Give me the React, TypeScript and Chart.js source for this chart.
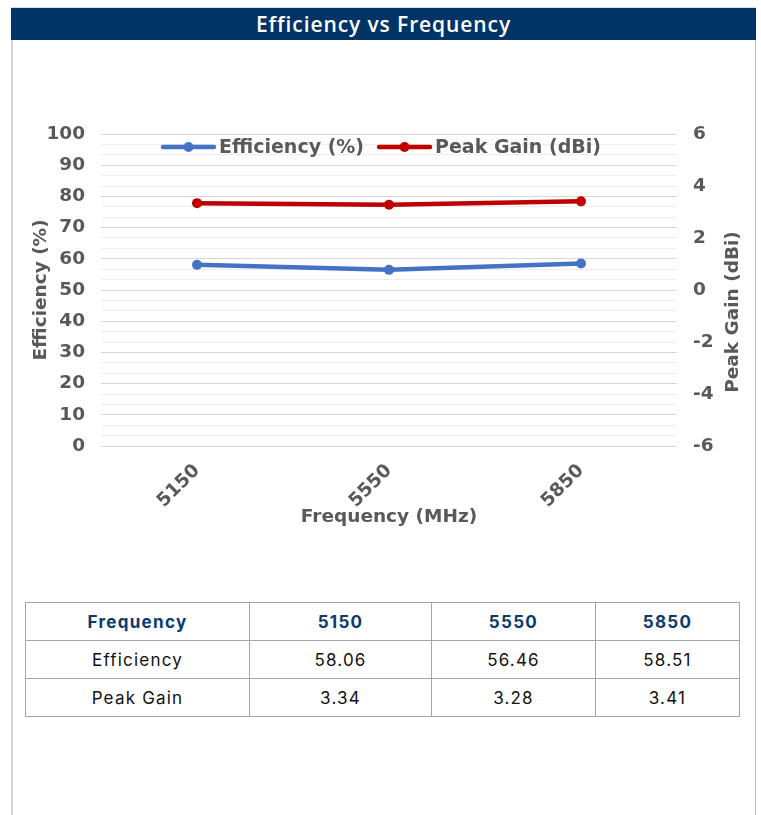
import React, { useEffect, useRef } from "react";
import { Chart, registerables } from "chart.js";

Chart.register(...registerables);

// ---- data ----
const categories = ["5150", "5550", "5850"];
const efficiency = [58.06, 56.46, 58.51];
const peakGain = [3.34, 3.28, 3.41];
const seriesNames = ["Efficiency (%)", "Peak Gain (dBi)"];
const tableRowNames = ["Efficiency", "Peak Gain"];
const chartTitle = "Efficiency vs Frequency";
const xTitle = "Frequency (MHz)";
const leftTitle = "Efficiency (%)";
const rightTitle = "Peak Gain (dBi)";
const leftMin = 0;
const leftMax = 100;
const leftMajor = 10;
const minorPerMajor = 3;
const rightMin = -6;
const rightMax = 6;
const rightStep = 2;

const BLUE = "#4472C4";
const RED = "#C00000";
const GRAY = "#595959";
const NAVY = "#003366";
const FONT = "'DejaVu Sans', Verdana, sans-serif";
const AXIS_SIZE = 18.5;
const LEGEND_SIZE = 19;

const rightTitlePlugin = {
  id: "rightTitleRotated",
  afterDraw(chart: any) {
    const scale = chart.scales.y1;
    const area = chart.chartArea;
    const ctx = chart.ctx;
    ctx.save();
    ctx.translate(scale.right - 22, (area.top + area.bottom) / 2 + 22);
    ctx.rotate(-Math.PI / 2);
    ctx.font = `bold ${AXIS_SIZE}px ${FONT}`;
    ctx.fillStyle = GRAY;
    ctx.textAlign = "center";
    ctx.textBaseline = "middle";
    ctx.fillText(rightTitle, 0, 0);
    ctx.restore();
  },
};

// legend drawn inside the plot area (line + marker samples, as in the original)
const insideLegendPlugin = {
  id: "insideLegend",
  afterDraw(chart: any) {
    const ctx = chart.ctx;
    const area = chart.chartArea;
    const sample = 55;
    const gapText = 3;
    const gapItem = 13;
    ctx.save();
    ctx.font = `bold ${LEGEND_SIZE}px ${FONT}`;
    const items = chart.data.datasets.map((ds: any) => ({
      text: ds.label,
      color: ds.borderColor,
      w: ctx.measureText(ds.label).width,
    }));
    const total =
      items.reduce((s: number, it: any) => s + sample + gapText + it.w, 0) + gapItem * (items.length - 1);
    let x = (area.left + area.right) / 2 - 8 - total / 2;
    const y = area.top + 13;
    ctx.textBaseline = "middle";
    ctx.textAlign = "left";
    for (const it of items) {
      ctx.strokeStyle = it.color;
      ctx.lineWidth = 4.5;
      ctx.lineCap = "round";
      ctx.beginPath();
      ctx.moveTo(x + 2, y);
      ctx.lineTo(x + sample - 2, y);
      ctx.stroke();
      ctx.fillStyle = it.color;
      ctx.beginPath();
      ctx.arc(x + sample / 2, y, 5, 0, Math.PI * 2);
      ctx.fill();
      ctx.fillStyle = GRAY;
      ctx.fillText(it.text, x + sample + gapText, y + 1);
      x += sample + gapText + it.w + gapItem;
    }
    ctx.restore();
  },
};

function ChartCanvas() {
  const ref = useRef<HTMLCanvasElement | null>(null);
  useEffect(() => {
    if (!ref.current) return;
    const font = { family: FONT, size: AXIS_SIZE, weight: "bold" as const };
    const nMinor = ((leftMax - leftMin) / leftMajor) * minorPerMajor;
    const chart = new Chart(ref.current, {
      type: "line",
      data: {
        labels: categories,
        datasets: [
          {
            label: seriesNames[0],
            data: efficiency,
            yAxisID: "y",
            borderColor: BLUE,
            backgroundColor: BLUE,
            borderWidth: 4.5,
            pointRadius: 5,
            pointBorderWidth: 0,
            pointBackgroundColor: BLUE,
            tension: 0,
          },
          {
            label: seriesNames[1],
            data: peakGain,
            yAxisID: "y1",
            borderColor: RED,
            backgroundColor: RED,
            borderWidth: 4.5,
            pointRadius: 5,
            pointBorderWidth: 0,
            pointBackgroundColor: RED,
            tension: 0,
          },
        ],
      },
      options: {
        animation: false,
        responsive: false,
        devicePixelRatio: 1,
        layout: { padding: { top: 94, left: 0, right: 0, bottom: 0 } },
        plugins: {
          tooltip: { enabled: false },
          title: { display: false },
          legend: { display: false },
        },
        scales: {
          x: {
            type: "category",
            offset: true,
            grid: { display: false, drawTicks: false },
            border: { display: false },
            ticks: {
              color: GRAY,
              font,
              minRotation: 45,
              maxRotation: 45,
              padding: 14,
              autoSkip: false,
            },
            title: {
              display: true,
              text: xTitle,
              color: GRAY,
              font,
              padding: { top: 0, bottom: 12 },
            },
            afterFit: (s: any) => {
              s.height = 94;
            },
          },
          y: {
            type: "linear",
            position: "left",
            min: leftMin,
            max: leftMax,
            border: { display: false },
            grid: {
              drawTicks: false,
              lineWidth: 1,
              color: (ctx: any) => (ctx.index % minorPerMajor === 0 ? "#d6d6d6" : "#ededed"),
            },
            afterBuildTicks: (s: any) => {
              const ticks = [];
              for (let i = 0; i <= nMinor; i++) {
                ticks.push({ value: leftMin + (i * leftMajor) / minorPerMajor });
              }
              s.ticks = ticks;
            },
            ticks: {
              autoSkip: false,
              color: GRAY,
              font,
              padding: 16,
              callback: (v: any, i: number) => (i % minorPerMajor === 0 ? String(Math.round(Number(v))) : ""),
            },
            title: {
              display: true,
              text: leftTitle,
              color: GRAY,
              font,
              padding: { top: 19, bottom: 0 },
            },
            afterFit: (s: any) => {
              s.width = 90;
            },
          },
          y1: {
            type: "linear",
            position: "right",
            min: rightMin,
            max: rightMax,
            border: { display: false },
            grid: { display: false, drawOnChartArea: false, drawTicks: false },
            ticks: {
              stepSize: rightStep,
              color: GRAY,
              font,
              padding: 16,
            },
            title: { display: false },
            afterFit: (s: any) => {
              s.width = 78;
            },
          },
        },
      },
      plugins: [insideLegendPlugin, rightTitlePlugin],
    } as any);
    return () => chart.destroy();
  }, []);
  return (
    <canvas
      ref={ref}
      width={744}
      height={500}
      style={{ position: "absolute", left: 11, top: 40, width: 744, height: 500 }}
    />
  );
}

export default function App() {
  const colWidths = [224, 182, 164, 144];
  const rows = [
    efficiency.map((v) => v.toFixed(2)),
    peakGain.map((v) => v.toFixed(2)),
  ];
  const cellBase: React.CSSProperties = {
    border: "1px solid #a6a6a6",
    height: 37,
    padding: 0,
    textAlign: "center",
    verticalAlign: "middle",
    fontSize: 17,
    letterSpacing: "1.2px",
  };
  const headCell: React.CSSProperties = {
    ...cellBase,
    color: "#0b3a6e",
    fontWeight: 700,
    letterSpacing: "1.3px",
  };
  const bodyCell: React.CSSProperties = { ...cellBase, color: "#111111" };
  return (
    <div
      style={{
        position: "absolute",
        left: 0,
        top: 0,
        width: 761,
        height: 815,
        overflow: "hidden",
        background: "#ffffff",
        fontFamily: "Inter, 'Open Sans', sans-serif",
      }}
    >
      {/* outer frame */}
      <div
        style={{
          position: "absolute",
          left: 11,
          top: 7,
          width: 742,
          height: 820,
          borderLeft: "2px solid #d6d6d6",
          borderRight: "1px solid #bdbdbd",
          borderTop: "1px solid #dcdcdc",
        }}
      />
      {/* title bar */}
      <div
        style={{
          position: "absolute",
          left: 11,
          top: 8,
          width: 745,
          height: 32,
          background: NAVY,
          color: "#ffffff",
          fontFamily: "'Open Sans', sans-serif",
          fontWeight: 600,
          fontSize: 21,
          letterSpacing: "0.9px",
          lineHeight: "32px",
          textAlign: "center",
        }}
      >
        {chartTitle}
      </div>
      <ChartCanvas />
      <table
        style={{
          position: "absolute",
          left: 25,
          top: 602,
          width: 714,
          borderCollapse: "collapse",
          tableLayout: "fixed",
        }}
      >
        <colgroup>
          {colWidths.map((w, i) => (
            <col key={i} style={{ width: w }} />
          ))}
        </colgroup>
        <tbody>
          <tr>
            <td style={headCell}>Frequency</td>
            {categories.map((c) => (
              <td key={c} style={headCell}>
                {c}
              </td>
            ))}
          </tr>
          {rows.map((r, ri) => (
            <tr key={ri}>
              <td style={bodyCell}>{tableRowNames[ri]}</td>
              {r.map((v, ci) => (
                <td key={ci} style={bodyCell}>
                  {v}
                </td>
              ))}
            </tr>
          ))}
        </tbody>
      </table>
    </div>
  );
}
